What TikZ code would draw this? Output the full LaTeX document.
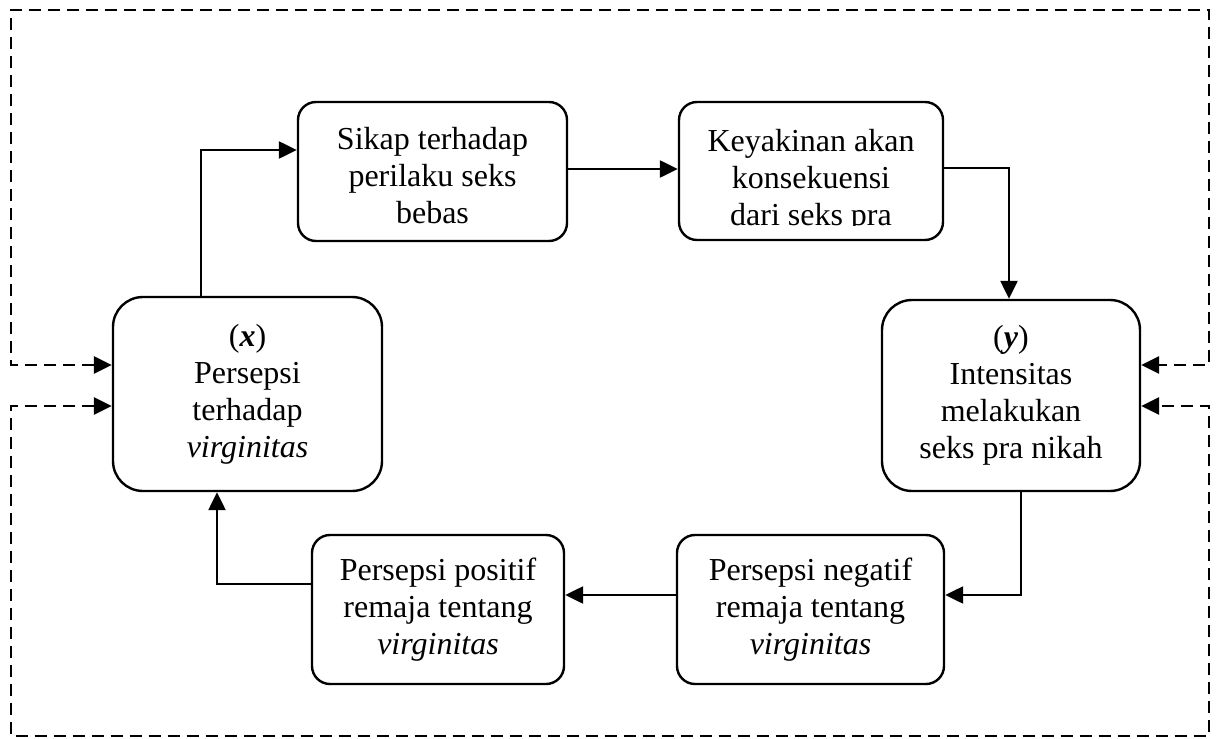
\documentclass[tikz,border=0pt]{standalone}
\usepackage{fontspec}
\setmainfont{Liberation Serif}
\usetikzlibrary{arrows.meta}
\begin{document}
\begin{tikzpicture}[x=0.5pt,y=-0.5pt,
  every node/.style={font=\fontsize{16pt}{18.5pt}\selectfont, align=center, inner sep=0pt},
  bigbox/.style={draw, line width=1.2pt, rounded corners=15pt},
  smallbox/.style={draw, line width=1.2pt, rounded corners=9pt},
  tip/.tip={Triangle[length=9pt,width=8.5pt]},
  arr/.style={line width=1.2pt, -tip},
  dashline/.style={line width=1.3pt, dash pattern=on 6pt off 3.5pt, tip-tip}
]
\useasboundingbox (0,0) rectangle (1221,739);

% boxes
\node[bigbox, minimum width=134.5pt, minimum height=97pt] (X) at (247.5,394)
  {(\textbf{\textit{x}})\\Persepsi\\terhadap\\\textit{virginitas}};
\node[bigbox, minimum width=129pt, minimum height=95.5pt] (Y) at (1011,395.5)
  {(\textbf{\textit{y}})\\Intensitas\\melakukan\\seks pra nikah};
\node[smallbox, minimum width=134.5pt, minimum height=69.5pt] (S) at (432.5,171.5) {};
\node (St) at (432.5,176) {Sikap terhadap\\perilaku seks\\bebas};
\node[smallbox, minimum width=132pt, minimum height=69pt] (K) at (811,171) {};
\begin{scope}
  \clip (K.north west) rectangle ([yshift=8pt]K.south east);
  \node (Kt) at (811,181) {Keyakinan akan\\konsekuensi\\dari seks pra};
\end{scope}
\node[smallbox, minimum width=126pt, minimum height=74.5pt] (P) at (438,609.5)
  {Persepsi positif\\remaja tentang\\\textit{virginitas}};
\node[smallbox, minimum width=133.5pt, minimum height=74.5pt] (N) at (810.5,609.5)
  {Persepsi negatif\\remaja tentang\\\textit{virginitas}};

% helper coordinates
\coordinate (c1) at (201,150);
\coordinate (c2) at (600,169);
\coordinate (c3) at (1009,168);
\coordinate (c4) at (1021,595);
\coordinate (c5) at (217,584);

% solid connectors
\draw[arr] (X.north -| c1) |- (S.west |- c1);
\draw[arr] (S.east |- c2) -- (K.west |- c2);
\draw[arr] (K.east |- c3) -| (Y.north -| c3);
\draw[arr] (Y.south -| c4) |- (N.east |- c4);
\draw[arr] (N.west |- c4) -- (P.east |- c4);
\draw[arr] (P.west |- c5) -| (X.south -| c5);

% dashed feedback loops
\coordinate (d1) at (11,365);
\coordinate (tl) at (11,10);
\coordinate (tr) at (1209,10);
\coordinate (d2) at (1209,365);
\coordinate (d3) at (11,406);
\coordinate (bl) at (11,736);
\coordinate (br) at (1209,736);
\coordinate (d4) at (1209,406);
\draw[dashline] (X.west |- d1) -- (d1) -- (tl) -- (tr) -- (d2) -- (Y.east |- d2);
\draw[dashline] (X.west |- d3) -- (d3) -- (bl) -- (br) -- (d4) -- (Y.east |- d4);
\end{tikzpicture}
\end{document}
